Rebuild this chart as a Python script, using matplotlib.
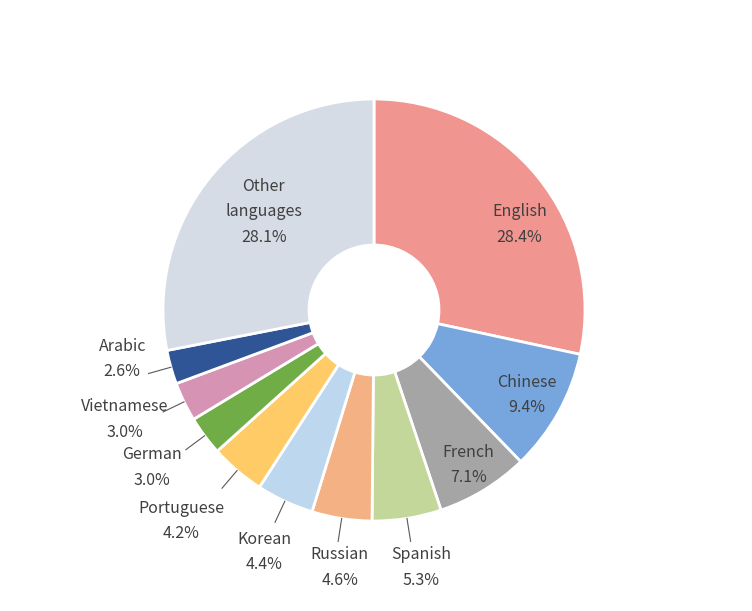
import numpy as np
import matplotlib
matplotlib.use("Agg")
from matplotlib import pyplot as plt

plt.rcParams['font.family'] = ['Noto Sans CJK JP', 'DejaVu Sans']

languages = ["English", "Chinese", "French", "Spanish", "Russian", "Korean",
             "Portuguese", "German", "Vietnamese", "Arabic", "Other\nlanguages"]
shares = [28.4, 9.4, 7.1, 5.3, 4.6, 4.4, 4.2, 3.0, 3.0, 2.6, 28.1]
colors = ["#F09590", "#77A6DE", "#A5A5A5", "#C4D79B", "#F4B183", "#BDD7EE",
          "#FFCB66", "#70AD47", "#D793B3", "#2F5597", "#D6DCE5"]

# label placement: (radius, angle shift in degrees), inside or outside
inside = [True, True, True, False, False, False, False, False, False, False, True]
label_r = [0.80, 0.83, 0.86, 1.24, 1.23, 1.26, 1.355, 1.29, 1.29, 1.216, 0.70]
label_shift = [8.4, 0, 0, -1.4, -1.2, -0.6, 2.0, 1.2, 2.1, 4.7, 2.3]

fig = plt.figure(figsize=(7.52, 6.11), dpi=100)
ax = fig.add_axes([0, 0, 1, 1])

ax.pie(shares, colors=colors, startangle=90, counterclock=False, radius=1,
       wedgeprops=dict(width=1 - 65 / 211, edgecolor="white", linewidth=2))

total = sum(shares)
cum = np.cumsum([0] + shares[:-1])
mid = (cum + np.array(shares) / 2) / total * 360  # clockwise from top

for i, name in enumerate(languages):
    th = np.deg2rad(mid[i] + label_shift[i])
    x, y = label_r[i] * np.sin(th), label_r[i] * np.cos(th)
    ax.text(x, y, f"{name}\n{shares[i]:.1f}%", ha="center", va="center",
            fontsize=11.5, color="#404040", linespacing=1.66)
    if not inside[i]:
        t = np.deg2rad(mid[i])
        r = np.array([1.0, 1.11])
        ax.plot(r * np.sin(t), r * np.cos(t), color="#595959", lw=0.8)

ax.set_xlim(-374 / 211, (752 - 374) / 211)
ax.set_ylim((310 - 611) / 211, 310 / 211)
ax.set_aspect("auto")
ax.axis("off")

fig.savefig("out.png", dpi=100)
